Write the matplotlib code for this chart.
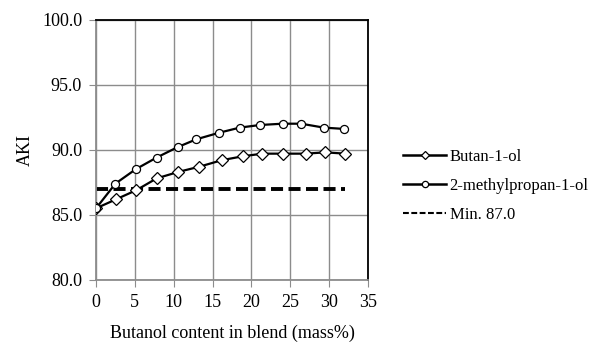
import matplotlib
matplotlib.use("Agg")
import matplotlib.pyplot as plt
from matplotlib.lines import Line2D

plt.rcParams['font.family'] = ['Liberation Serif', 'DejaVu Serif']

x_butanol = [0, 2.6, 5.2, 7.8, 10.6, 13.3, 16.2, 18.9, 21.4, 24.1, 27.0, 29.5, 32.1]
y_butanol = [85.5, 86.2, 86.9, 87.8, 88.3, 88.7, 89.2, 89.5, 89.7, 89.7, 89.7, 89.8, 89.7]
x_methyl = [0, 2.5, 5.1, 7.8, 10.5, 12.9, 15.8, 18.5, 21.1, 24.0, 26.4, 29.3, 31.9]
y_methyl = [85.5, 87.4, 88.5, 89.4, 90.2, 90.8, 91.3, 91.7, 91.9, 92.0, 92.0, 91.7, 91.6]
x_min = [0, 32]
y_min = [87.0, 87.0]
labels = ['Butan-1-ol', '2-methylpropan-1-ol', 'Min. 87.0']
xticks = [0, 5, 10, 15, 20, 25, 30, 35]
yticks = [80.0, 85.0, 90.0, 95.0, 100.0]

fig = plt.figure(figsize=(5.90, 3.49), dpi=100)
ax = fig.add_axes([96/590, 1 - 280/349, (368-96)/590, (280-19.5)/349])

ax.plot(x_min, y_min, color='black', lw=2.8, dashes=(3.1, 1.4), zorder=2)
ax.plot(x_butanol, y_butanol, color='black', lw=1.6, marker='D', ms=6.5,
        mfc='white', mec='black', mew=0.9, zorder=3)
ax.plot(x_methyl, y_methyl, color='black', lw=1.6, marker='o', ms=5.8,
        mfc='white', mec='black', mew=0.9, zorder=3)

ax.set_xlim(0, 35)
ax.set_ylim(80, 100)
ax.set_xticks(xticks)
ax.set_yticks(yticks)
ax.set_yticklabels([f'{v:.1f}' for v in yticks])
ax.grid(True, color='#8c8c8c', lw=1.0)
ax.set_axisbelow(True)
for s in ['left', 'bottom']:
    ax.spines[s].set_color('#8c8c8c')
    ax.spines[s].set_linewidth(1.3)
for s in ['top', 'right']:
    ax.spines[s].set_color('black')
    ax.spines[s].set_linewidth(1.3)
ax.tick_params(direction='out', length=5, color='#8c8c8c', labelsize=13, pad=5)
ax.set_xlabel('Butanol content in blend (mass%)', fontsize=13, labelpad=10)
ax.set_ylabel('AKI', fontsize=13, labelpad=6)

handles = [
    Line2D([], [], color='black', lw=1.8, marker='D', ms=4.5, mfc='white', mec='black', mew=0.9),
    Line2D([], [], color='black', lw=1.8, marker='o', ms=4.5, mfc='white', mec='black', mew=0.9),
    Line2D([], [], color='black', lw=1.5, dashes=(2.8, 1.2)),
]
fig.legend(handles, labels, loc='center left', bbox_to_anchor=(403/590, 1 - 185.5/349),
           frameon=False, fontsize=12, handlelength=2.6, handletextpad=0.2,
           labelspacing=0.78, borderaxespad=0, borderpad=0)

fig.savefig('out.png', dpi=100)
